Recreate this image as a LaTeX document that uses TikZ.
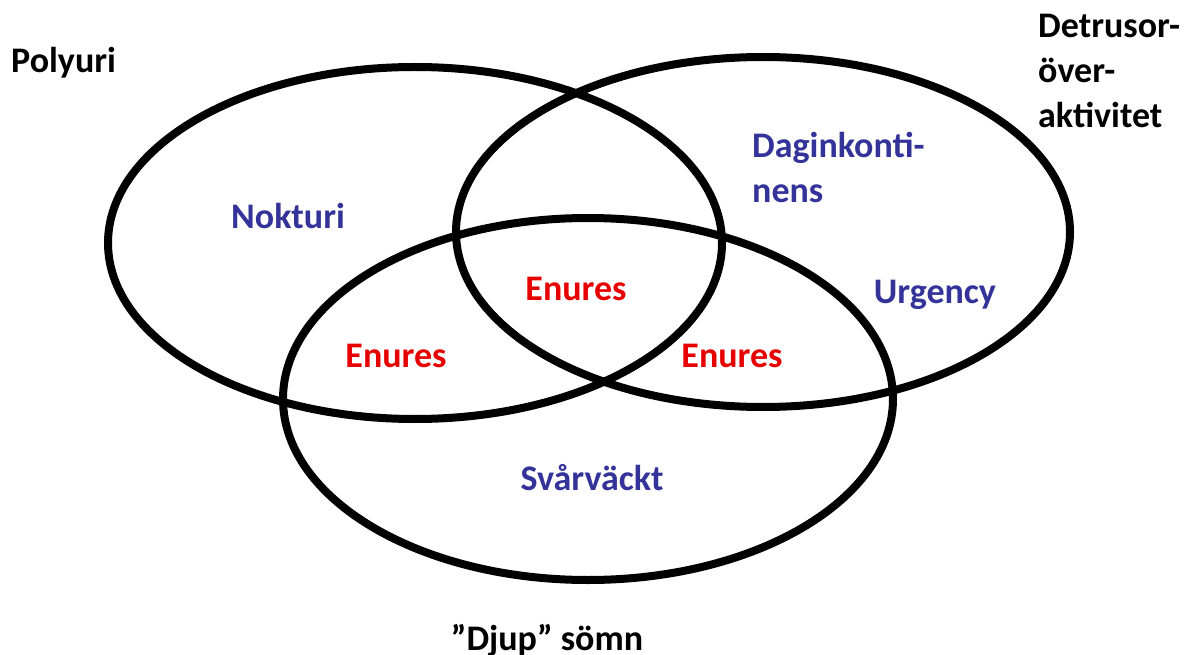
\documentclass[tikz,border=0pt]{standalone}
\usepackage{fontspec}
\setmainfont{Carlito}
\definecolor{lblue}{RGB}{51,51,153}
\definecolor{lred}{RGB}{230,0,0}
\tikzset{
  ring/.style={draw=black, line width=8pt},
  lbl/.style={font=\bfseries\fontsize{36}{45}\selectfont, inner sep=0pt, anchor=base},
  bl/.style={lbl, text=lblue},
  rd/.style={lbl, text=lred},
  bk/.style={lbl, text=black}
}
\begin{document}
\begin{tikzpicture}[x=1pt,y=-1pt]
\useasboundingbox (0,0) rectangle (1192,655);
\draw[ring] (415,243) ellipse [x radius=307, y radius=176];
\draw[ring] (763,232) ellipse [x radius=307, y radius=175];
\draw[ring] (588,399) ellipse [x radius=305, y radius=181];
\node[bk, anchor=base west] (poly) at (11,73) {Polyuri};
\node[bk, anchor=base west, align=left] (detr) at (1038,128) {Detrusor-\\över-\\aktivitet};
\node[bk] (djup) at (547,650) {”Djup” sömn};
\node[bl] (nok) at (288,229) {Nokturi};
\node[bl, anchor=base west, align=left] (dag) at (752,203) {Daginkonti-\\nens};
\node[bl] (urg) at (935,304) {Urgency};
\node[bl] (sva) at (592,490) {Svårväckt};
\node[rd] (e1) at (576,301) {Enures};
\node[rd] (e2) at (396,367) {Enures};
\node[rd] (e3) at (732,367) {Enures};
\end{tikzpicture}
\end{document}
